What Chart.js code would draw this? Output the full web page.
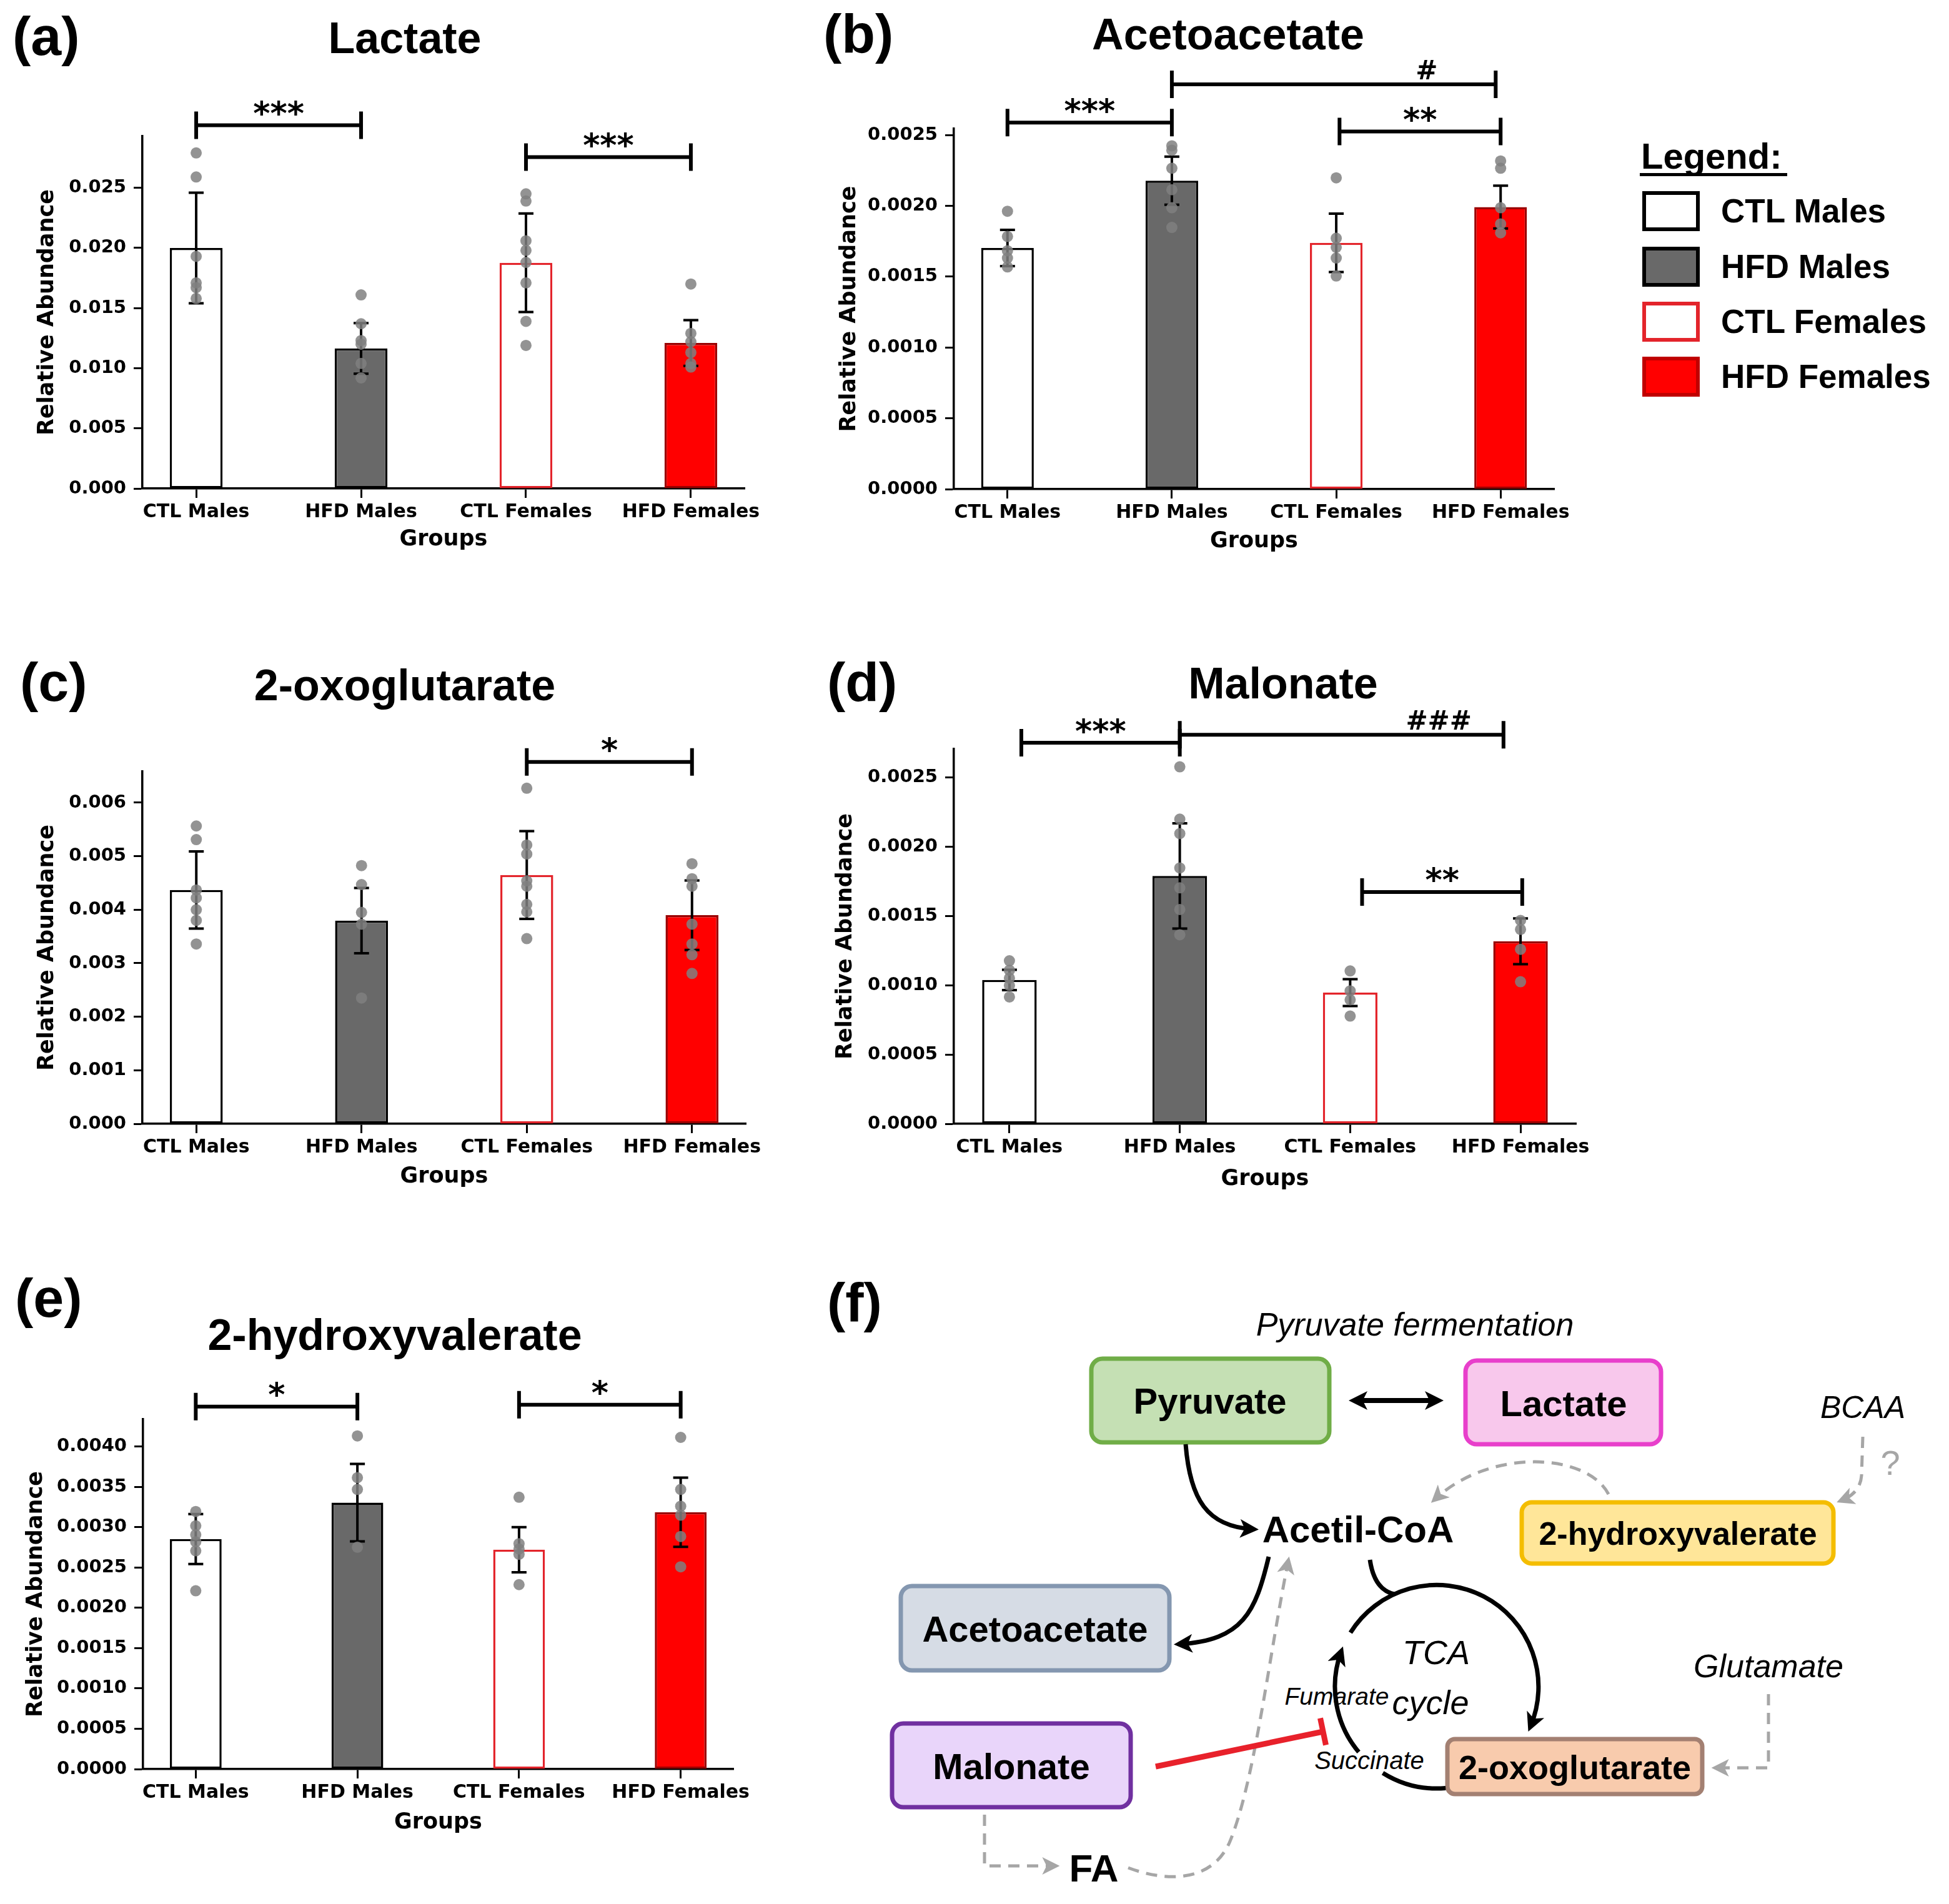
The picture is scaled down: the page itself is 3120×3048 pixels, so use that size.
<!DOCTYPE html>
<html>
<head>
<meta charset="utf-8">
<script src="https://cdn.jsdelivr.net/npm/chart.js@4.4.1/dist/chart.umd.min.js"></script>
<style>
  html, body { margin: 0; padding: 0; background: #fff; }
  #page { position: relative; width: 3120px; height: 3048px; overflow: hidden; background: #fff; }
  .panel { position: absolute; }
  .lg { position: absolute; font-family: "Liberation Sans", Arial, sans-serif; font-weight: bold; color: #000; white-space: nowrap; }
  svg text { font-family: "Liberation Sans", Arial, sans-serif; }
</style>
</head>
<body>
<div id="page">
  <div class="panel" style="left:0px;top:0px;width:1250px;height:900px"><canvas id="chartA"></canvas></div>
  <div class="panel" style="left:1300px;top:0px;width:1280px;height:900px"><canvas id="chartB"></canvas></div>
  <div class="panel" style="left:0px;top:1040px;width:1250px;height:900px"><canvas id="chartC"></canvas></div>
  <div class="panel" style="left:1300px;top:1040px;width:1300px;height:900px"><canvas id="chartD"></canvas></div>
  <div class="panel" style="left:0px;top:2040px;width:1250px;height:1000px"><canvas id="chartE"></canvas></div>
  <div id="legend"></div>

  <svg style="position:absolute;left:1300px;top:2040px" width="1820" height="1008" viewBox="1300 2040 1820 1008">
    <defs>
      <marker id="headK" viewBox="0 0 10 10" refX="7" refY="5" markerUnits="userSpaceOnUse" markerWidth="34" markerHeight="30" orient="auto-start-reverse">
        <path d="M0,0 L10,5 L0,10 L2.5,5 z" fill="#000"/>
      </marker>
      <marker id="headG" viewBox="0 0 10 10" refX="7" refY="5" markerUnits="userSpaceOnUse" markerWidth="30" markerHeight="28" orient="auto-start-reverse">
        <path d="M0,0 L10,5 L0,10 L2.5,5 z" fill="#a6a6a6"/>
      </marker>
    </defs>
    <text x="1324" y="2084" font-size="88" font-weight="bold" dominant-baseline="central">(f)</text>
    <text x="2265" y="2120" font-size="52" font-style="italic" text-anchor="middle" dominant-baseline="central">Pyruvate fermentation</text>

    <!-- dashed grey pathways -->
    <g fill="none" stroke="#a6a6a6" stroke-width="5" stroke-dasharray="18 12">
      <path d="M2575,2392 C2540,2325 2385,2318 2297,2400" marker-end="url(#headG)"/>
      <path d="M2982,2300 L2980,2362 Q2978,2390 2948,2402" marker-end="url(#headG)"/>
      <path d="M2831,2712 L2831,2830 L2748,2830" marker-end="url(#headG)"/>
      <path d="M1576,2905 L1576,2987 L1688,2987" marker-end="url(#headG)"/>
      <path d="M1806,2990 C1870,3014 1940,3012 1968,2950 C2008,2855 2030,2660 2062,2500" marker-end="url(#headG)"/>
    </g>

    <!-- boxes -->
    <rect x="1747" y="2175" width="381" height="134" rx="18" fill="#c5e0b4" stroke="#70ad47" stroke-width="7"/>
    <rect x="2346" y="2178" width="313" height="134" rx="18" fill="#f8c8ec" stroke="#e83fcb" stroke-width="7"/>
    <rect x="2436" y="2405" width="499" height="98" rx="16" fill="#ffe699" stroke="#f4bd00" stroke-width="7"/>
    <rect x="1442" y="2539" width="430" height="135" rx="18" fill="#d6dce5" stroke="#8497b0" stroke-width="7"/>
    <rect x="1428" y="2759" width="382" height="134" rx="18" fill="#e9d5fa" stroke="#7030a0" stroke-width="7"/>
    <rect x="2317" y="2784" width="408" height="88" rx="12" fill="#f8cbad" stroke="#a38072" stroke-width="7"/>

    <g font-weight="bold" text-anchor="middle" dominant-baseline="central">
      <text x="1937" y="2242" font-size="58">Pyruvate</text>
      <text x="2503" y="2246" font-size="58">Lactate</text>
      <text x="2686" y="2455" font-size="52">2-hydroxyvalerate</text>
      <text x="1657" y="2607" font-size="58">Acetoacetate</text>
      <text x="1619" y="2827" font-size="58">Malonate</text>
      <text x="2521" y="2829" font-size="54">2-oxoglutarate</text>
      <text x="2174" y="2448" font-size="60">Acetil-CoA</text>
      <text x="1751" y="2990" font-size="62">FA</text>
    </g>

    <!-- black arrows -->
    <g fill="none" stroke="#000" stroke-width="7">
      <path d="M2168,2242 L2302,2242" stroke-width="8" marker-start="url(#headK)" marker-end="url(#headK)"/>
      <path d="M1898,2312 C1905,2400 1932,2444 2006,2448" marker-end="url(#headK)"/>
      <path d="M2031,2492 C2010,2580 1990,2626 1888,2632" marker-end="url(#headK)"/>
      <!-- TCA cycle -->
      <path d="M2175.1,2804.8 A163,163 0 0 1 2146.8,2644.3" marker-end="url(#headK)"/>
      <path d="M2161.8,2613.6 A163,163 0 0 1 2450,2763.7" marker-end="url(#headK)"/>
      <path d="M2314.2,2862.4 A163,163 0 0 1 2213.6,2838.2"/>
      <path d="M2193,2497 Q2200,2545 2232,2552"/>
    </g>

    <!-- malonate inhibition -->
    <g stroke="#e8212b" stroke-width="9" fill="none">
      <path d="M1850,2828 L2118,2772"/>
      <path d="M2113.5,2750.5 L2122.5,2793.5"/>
    </g>

    <g font-style="italic" text-anchor="middle" dominant-baseline="central">
      <text x="2982" y="2253" font-size="50">BCAA</text>
      <text x="3026" y="2341" font-size="56" fill="#a6a6a6" font-style="normal">?</text>
      <text x="2299" y="2645" font-size="54">TCA</text>
      <text x="2290" y="2725" font-size="54">cycle</text>
      <text x="2140" y="2715" font-size="39">Fumarate</text>
      <text x="2192" y="2818" font-size="40">Succinate</text>
      <text x="2831" y="2667" font-size="52">Glutamate</text>
    </g>
  </svg>
</div>

<script>
const groups = ["CTL Males", "HFD Males", "CTL Females", "HFD Females"];
const barFill = ["#ffffff", "#696969", "#ffffff", "#ff0000"];
const barEdge = ["#000000", "#000000", "#e3242b", "#9a0000"];
const dotColor = "rgba(128,128,128,0.85)";

// (a) Lactate
const lactateMean = [0.0200, 0.01165, 0.01877, 0.0121];
const lactateErr = [0.0046, 0.0021, 0.0041, 0.0019];
const lactatePoints = [
  [0.0279, 0.0259, 0.0193, 0.0171, 0.0167, 0.0158],
  [0.0161, 0.0137, 0.0123, 0.0120, 0.0104, 0.0092],
  [0.0245, 0.0239, 0.0206, 0.0198, 0.0188, 0.0171, 0.0139, 0.0119],
  [0.0170, 0.0129, 0.0122, 0.0113, 0.0104, 0.0101]
];
const lactateTicks = ["0.000", "0.005", "0.010", "0.015", "0.020", "0.025"];
const lactateSig = [
  { from: 0, to: 1, level: 0.0302, text: "***" },
  { from: 2, to: 3, level: 0.02755, text: "***" }
];

// (b) Acetoacetate
const acetoMean = [0.001703, 0.002178, 0.001739, 0.001992];
const acetoErr = [0.000128, 0.00017, 0.000206, 0.000151];
const acetoPoints = [
  [0.001962, 0.001784, 0.001683, 0.001632, 0.001569],
  [0.002424, 0.002393, 0.002266, 0.002114, 0.001987, 0.001848],
  [0.002198, 0.001772, 0.001708, 0.001632, 0.001505],
  [0.002317, 0.002266, 0.001987, 0.001873, 0.00181]
];
const acetoTicks = ["0.0000", "0.0005", "0.0010", "0.0015", "0.0020", "0.0025"];
const acetoSig = [
  { from: 0, to: 1, level: 0.002588, text: "***" },
  { from: 2.02, to: 3, level: 0.002525, text: "**" },
  { from: 1, to: 2.97, level: 0.002858, text: "#", textAt: 2.55 }
];

// (c) 2-oxoglutarate
const oxoMean = [0.004368, 0.003797, 0.00465, 0.003898];
const oxoErr = [0.00072, 0.00061, 0.00082, 0.00065];
const oxoPoints = [
  [0.005565, 0.00531, 0.00437, 0.00422, 0.0040, 0.0038, 0.00336],
  [0.004825, 0.00447, 0.00395, 0.00373, 0.00235],
  [0.00627, 0.00521, 0.00504, 0.00454, 0.00444, 0.0041, 0.00396, 0.00346],
  [0.00486, 0.00458, 0.00444, 0.00373, 0.00336, 0.00316, 0.00281]
];
const oxoTicks = ["0.000", "0.001", "0.002", "0.003", "0.004", "0.005", "0.006"];
const oxoSig = [
  { from: 2, to: 3, level: 0.006761, text: "*" }
];

// (d) Malonate
const malonMean = [0.001039, 0.00179, 0.000947, 0.001318];
const malonErr = [0.000073, 0.00038, 0.000097, 0.000165];
const malonPoints = [
  [0.001177, 0.001109, 0.001052, 0.000999, 0.000916],
  [0.002578, 0.0022, 0.002096, 0.001848, 0.001704, 0.001548, 0.001365],
  [0.001104, 0.00096, 0.000895, 0.000778],
  [0.001469, 0.001404, 0.00126, 0.001026]
];
const malonTicks = ["0.0000", "0.0005", "0.0010", "0.0015", "0.0020", "0.0025"];
const malonSig = [
  { from: 0.07, to: 1, level: 0.002752, text: "***" },
  { from: 1, to: 2.9, level: 0.002809, text: "###", textAt: 2.52 },
  { from: 2.07, to: 3.01, level: 0.001674, text: "**" }
];

// (e) 2-hydroxyvalerate
const hvMean = [0.002854, 0.003305, 0.002721, 0.003186];
const hvErr = [0.00031, 0.00048, 0.00028, 0.00043];
const hvPoints = [
  [0.003195, 0.003018, 0.002907, 0.002819, 0.002708, 0.002212],
  [0.004133, 0.003615, 0.003469, 0.002752],
  [0.003372, 0.002796, 0.00273, 0.002664, 0.002288],
  [0.004115, 0.003469, 0.003261, 0.00315, 0.002885, 0.002509]
];
const hvTicks = ["0.0000", "0.0005", "0.0010", "0.0015", "0.0020", "0.0025", "0.0030", "0.0035", "0.0040"];
const hvSig = [
  { from: 0, to: 1, level: 0.004496, text: "*" },
  { from: 2, to: 3, level: 0.004519, text: "*" }
];

// layout of each panel, in page pixels
const panels = [
  { id: "chartA", letter: "(a)", title: "Lactate", mean: lactateMean, err: lactateErr, points: lactatePoints, ticks: lactateTicks, sig: lactateSig,
    box: { left: 0, top: 0, width: 1250, height: 900 }, area: { left: 228, right: 1192, top: 218, bottom: 782 },
    letterAt: [20, 64], titleAt: [648, 66], yTitleX: 76, xTitleY: 864 },
  { id: "chartB", letter: "(b)", title: "Acetoacetate", mean: acetoMean, err: acetoErr, points: acetoPoints, ticks: acetoTicks, sig: acetoSig,
    box: { left: 1300, top: 0, width: 1280, height: 900 }, area: { left: 1527, right: 2488, top: 206, bottom: 783 },
    letterAt: [1318, 60], titleAt: [1966, 60], yTitleX: 1360, xTitleY: 867 },
  { id: "chartC", letter: "(c)", title: "2-oxoglutarate", mean: oxoMean, err: oxoErr, points: oxoPoints, ticks: oxoTicks, sig: oxoSig,
    box: { left: 0, top: 1040, width: 1250, height: 900 }, area: { left: 228, right: 1194, top: 1235, bottom: 1799 },
    letterAt: [32, 1098], titleAt: [648, 1102], yTitleX: 76, xTitleY: 1884 },
  { id: "chartD", letter: "(d)", title: "Malonate", mean: malonMean, err: malonErr, points: malonPoints, ticks: malonTicks, sig: malonSig,
    box: { left: 1300, top: 1040, width: 1300, height: 900 }, area: { left: 1527, right: 2523, top: 1199, bottom: 1799 },
    letterAt: [1324, 1098], titleAt: [2054, 1099], yTitleX: 1354, xTitleY: 1888 },
  { id: "chartE", letter: "(e)", title: "2-hydroxyvalerate", mean: hvMean, err: hvErr, points: hvPoints, ticks: hvTicks, sig: hvSig,
    box: { left: 0, top: 2040, width: 1250, height: 1000 }, area: { left: 229, right: 1174, top: 2272, bottom: 2832 },
    letterAt: [24, 2084], titleAt: [632, 2142], yTitleX: 58, xTitleY: 2918 }
];

Chart.defaults.font.family = "'DejaVu Sans', sans-serif";
Chart.defaults.font.weight = "bold";
Chart.defaults.color = "#000";

function makeChart(p) {
  const b = p.box, a = p.area;
  const tickVals = p.ticks.map(Number);
  const yMax = Math.max(...p.points.flat()) * 1.05;
  const yW = a.left - b.left;
  const xH = b.top + b.height - a.bottom;
  const axisFont = { family: "'DejaVu Sans', sans-serif", weight: "bold", size: 35 };

  const errorBars = {
    id: "errorBars",
    afterDatasetDraw(chart, args) {
      const ds = chart.data.datasets[args.index];
      if (!ds.errors) return;
      const { ctx, scales: { x, y } } = chart;
      ctx.save();
      ctx.strokeStyle = "#000";
      ctx.lineWidth = 4;
      ds.data.forEach((d, i) => {
        const px = x.getPixelForValue(d.x);
        const hi = y.getPixelForValue(d.y + ds.errors[i]);
        const lo = y.getPixelForValue(d.y - ds.errors[i]);
        ctx.beginPath();
        ctx.moveTo(px, hi); ctx.lineTo(px, lo);
        ctx.moveTo(px - 12, hi); ctx.lineTo(px + 12, hi);
        ctx.moveTo(px - 12, lo); ctx.lineTo(px + 12, lo);
        ctx.stroke();
      });
      ctx.restore();
    }
  };

  const brackets = {
    id: "brackets",
    afterDraw(chart) {
      const { ctx, scales: { x, y } } = chart;
      ctx.save();
      ctx.strokeStyle = "#000";
      ctx.fillStyle = "#000";
      ctx.lineWidth = 6;
      p.sig.forEach(s => {
        const x1 = x.getPixelForValue(s.from), x2 = x.getPixelForValue(s.to);
        const yl = y.getPixelForValue(s.level);
        ctx.beginPath();
        ctx.moveTo(x1, yl); ctx.lineTo(x2, yl);
        ctx.moveTo(x1, yl - 22); ctx.lineTo(x1, yl + 22);
        ctx.moveTo(x2, yl - 22); ctx.lineTo(x2, yl + 22);
        ctx.stroke();
        const hash = s.text.startsWith("#");
        ctx.font = "bold " + (hash ? 42 : 52) + "px 'DejaVu Sans'";
        ctx.textAlign = "center";
        ctx.textBaseline = "alphabetic";
        const m = ctx.measureText(s.text);
        const mid = (m.actualBoundingBoxAscent - m.actualBoundingBoxDescent) / 2;
        const tx = x.getPixelForValue(s.textAt !== undefined ? s.textAt : (s.from + s.to) / 2);
        ctx.fillText(s.text, tx, yl - (hash ? 24 : 28) + mid);
      });
      ctx.restore();
    }
  };

  const panelText = {
    id: "panelText",
    afterDraw(chart) {
      const ctx = chart.ctx;
      ctx.save();
      ctx.fillStyle = "#000";
      ctx.textBaseline = "middle";
      ctx.font = "bold 88px 'Liberation Sans'";
      ctx.textAlign = "left";
      ctx.fillText(p.letter, p.letterAt[0] - b.left, p.letterAt[1] - b.top);
      ctx.font = "bold 70px 'Liberation Sans'";
      ctx.textAlign = "center";
      ctx.fillText(p.title, p.titleAt[0] - b.left, p.titleAt[1] - b.top);
      ctx.restore();
    }
  };

  return new Chart(document.getElementById(p.id), {
    type: "bar",
    data: {
      datasets: [
        {
          type: "scatter",
          data: p.points.flatMap((vals, i) => vals.map(v => ({ x: i, y: v }))),
          pointRadius: 9,
          pointBackgroundColor: dotColor,
          pointBorderWidth: 0,
          order: 1
        },
        {
          type: "bar",
          data: p.mean.map((v, i) => ({ x: i, y: v })),
          errors: p.err,
          backgroundColor: barFill,
          borderColor: barEdge,
          borderWidth: 3.5,
          borderSkipped: false,
          barPercentage: 0.32,
          categoryPercentage: 1,
          order: 2
        }
      ]
    },
    options: {
      responsive: true,
      maintainAspectRatio: false,
      animation: false,
      devicePixelRatio: 1,
      layout: { padding: { top: a.top - b.top, right: b.left + b.width - a.right, left: 0, bottom: 0 } },
      plugins: { legend: { display: false }, tooltip: { enabled: false } },
      scales: {
        x: {
          type: "linear",
          offset: false,
          min: -0.326,
          max: 3.326,
          afterBuildTicks: s => { s.ticks = groups.map((g, i) => ({ value: i })); },
          afterFit: s => { s.height = xH; },
          ticks: { callback: v => groups[v], font: { size: 30 }, color: "#000", padding: 5, maxRotation: 0, autoSkip: false },
          grid: { display: true, offset: false, drawOnChartArea: false, drawTicks: true, tickLength: 15, tickColor: "#000", tickWidth: 3 },
          border: { display: true, color: "#000", width: 3.5 },
          title: { display: true, text: "Groups", font: axisFont, color: "#000", padding: { top: 0, bottom: b.top + b.height - p.xTitleY - 21 } }
        },
        y: {
          type: "linear",
          min: 0,
          max: yMax,
          afterBuildTicks: s => { s.ticks = tickVals.map(v => ({ value: v })); },
          afterFit: s => { s.width = yW; },
          ticks: { callback: v => p.ticks[tickVals.indexOf(v)], font: { size: 29 }, color: "#000", padding: 12 },
          grid: { display: true, drawOnChartArea: false, drawTicks: true, tickLength: 14, tickColor: "#000", tickWidth: 3 },
          border: { display: true, color: "#000", width: 3.5 },
          title: { display: true, text: "Relative Abundance", font: axisFont, color: "#000", padding: { top: p.yTitleX - b.left - 21, bottom: 0 } }
        }
      }
    },
    plugins: [errorBars, brackets, panelText]
  });
}

panels.forEach(makeChart);

// legend beside panel (b)
const legend = document.getElementById("legend");
const lgTitle = document.createElement("div");
lgTitle.className = "lg";
lgTitle.style.cssText = "left:2627px;top:221px;font-size:58px;line-height:58px;";
lgTitle.textContent = "Legend:";
legend.appendChild(lgTitle);
const lgRule = document.createElement("div");
lgRule.style.cssText = "position:absolute;left:2625px;top:277px;width:236px;height:5px;background:#000;";
legend.appendChild(lgRule);
const rowTops = [306, 395, 483, 571];
groups.forEach((g, i) => {
  const sw = document.createElement("div");
  sw.style.cssText = "position:absolute;box-sizing:border-box;left:2629px;top:" + rowTops[i] + "px;width:92px;height:64px;border:6px solid " +
    (i === 3 ? "#c00000" : i === 2 ? "#e3242b" : "#000") + ";background:" + barFill[i] + ";";
  legend.appendChild(sw);
  const tx = document.createElement("div");
  tx.className = "lg";
  tx.style.cssText = "left:2755px;top:" + (rowTops[i] + 2) + "px;font-size:53px;line-height:60px;";
  tx.textContent = g;
  legend.appendChild(tx);
});
</script>
</body>
</html>
